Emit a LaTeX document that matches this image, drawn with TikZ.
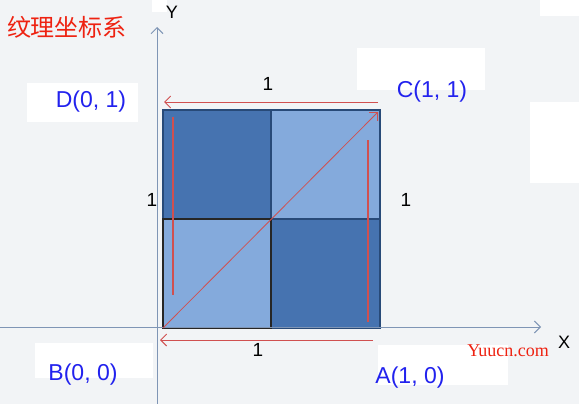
\documentclass[tikz,border=0pt]{standalone}
\usepackage{fontspec}
\setmainfont{Liberation Sans}
\newfontfamily\cjk{Noto Sans CJK SC}
\newfontfamily\wmfont{Liberation Serif}
\usetikzlibrary{arrows.meta}
\definecolor{bgc}{HTML}{F2F4F6}
\definecolor{darkq}{HTML}{4673B0}
\definecolor{lightq}{HTML}{84AADC}
\definecolor{edgec}{HTML}{284A78}
\definecolor{redl}{HTML}{D05050}
\definecolor{axisc}{HTML}{7F95B5}
\definecolor{bluet}{HTML}{2222EE}
\definecolor{redt}{HTML}{EE2211}
\tikzset{
  axisline/.style={draw=axisc, line width=1pt, -{Straight Barb[length=6pt,width=12pt]}},
  redarrow/.style={draw=redl, line width=0.9pt, -{Straight Barb[length=6pt,width=12pt]}},
  redline/.style={draw=redl, line width=1.2pt},
  ptlabel/.style={text=bluet, font=\fontsize{23}{26}\selectfont, inner sep=0pt},
  numlabel/.style={text=black, font=\fontsize{19}{22}\selectfont, inner sep=0pt},
}
\begin{document}
\begin{tikzpicture}[x=1pt,y=-1pt]
\fill[bgc] (0,0) rectangle (579,404);
\useasboundingbox (0,0) rectangle (579,404);
% white patches
\fill[white] (27,83) rectangle (138,122);
\fill[white] (357,48) rectangle (485,90);
\fill[white] (35,343) rectangle (153,378);
\fill[white] (378,345) rectangle (508,385);
\fill[white] (530,102) rectangle (579,183);
\fill[white] (152,0) rectangle (167,12);
\fill[white] (540,0) rectangle (579,16);
% corners
\coordinate (B) at (163,328);
\coordinate (A) at (380,328);
\coordinate (C) at (380,110);
\coordinate (D) at (163,110);
\coordinate (M) at (271,219);
% quadrants
\fill[darkq] (D) rectangle (M);
\fill[darkq] (M) rectangle (A);
\fill[lightq] (271,110) rectangle (380,219);
\fill[lightq] (B) rectangle (M);
\draw[edgec, line width=1.5pt] (D) rectangle (A);
\draw[edgec, line width=1.2pt] (271,110) -- (271,328) (163,219) -- (380,219);
\draw[black!85, line width=1.5pt] (B) rectangle (M);
% axes
\coordinate (xs) at (0,327);
\coordinate (xe) at (541,327);
\coordinate (ys) at (157,404);
\coordinate (ye) at (157,27);
\draw[axisline] (xs) -- (xe);
\draw[axisline] (ys) -- (ye);
\node[text=black, font=\fontsize{18}{20}\selectfont, inner sep=0pt] (ylab) at (172,12) {Y};
% watermark
\node[text=redt, font=\wmfont\fontsize{18}{20}\selectfont, inner sep=0pt] (wm) at (508,351) {Yuucn.com};
\node[text=black, font=\fontsize{18}{20}\selectfont, inner sep=0pt] (xlab) at (564,342) {X};
% red guides
\coordinate (t1) at (378,102);
\coordinate (t2) at (164,102);
\draw[redarrow] (t1) -- (t2);
\coordinate (b1) at (373,340);
\coordinate (b2) at (160,340);
\draw[redarrow] (b1) -- (b2);
\coordinate (l1) at (173,117);
\coordinate (l2) at (173,295);
\draw[redline] (l1) -- (l2);
\coordinate (r1) at (368,140);
\coordinate (r2) at (368,322);
\draw[redline] (r1) -- (r2);
\coordinate (d2) at (378,112);
\draw[redarrow, line width=0.8pt] (B) -- (d2);
% numbers
\node[numlabel] (n1) at (268,84) {1};
\node[numlabel] (n2) at (152,200) {1};
\node[numlabel] (n3) at (406,200) {1};
\node[numlabel] (n4) at (258,350) {1};
% point labels
\node[ptlabel] (Dl) at (91,102) {D(0, 1)};
\node[ptlabel] (Cl) at (432,92) {C(1, 1)};
\node[ptlabel] (Bl) at (83,375) {B(0, 0)};
\node[ptlabel] (Al) at (410,378) {A(1, 0)};
% title
\node[text=redt, font=\cjk\fontsize{24}{26}\selectfont, inner sep=0pt] (title) at (67,27) {纹理坐标系};
\end{tikzpicture}
\end{document}
